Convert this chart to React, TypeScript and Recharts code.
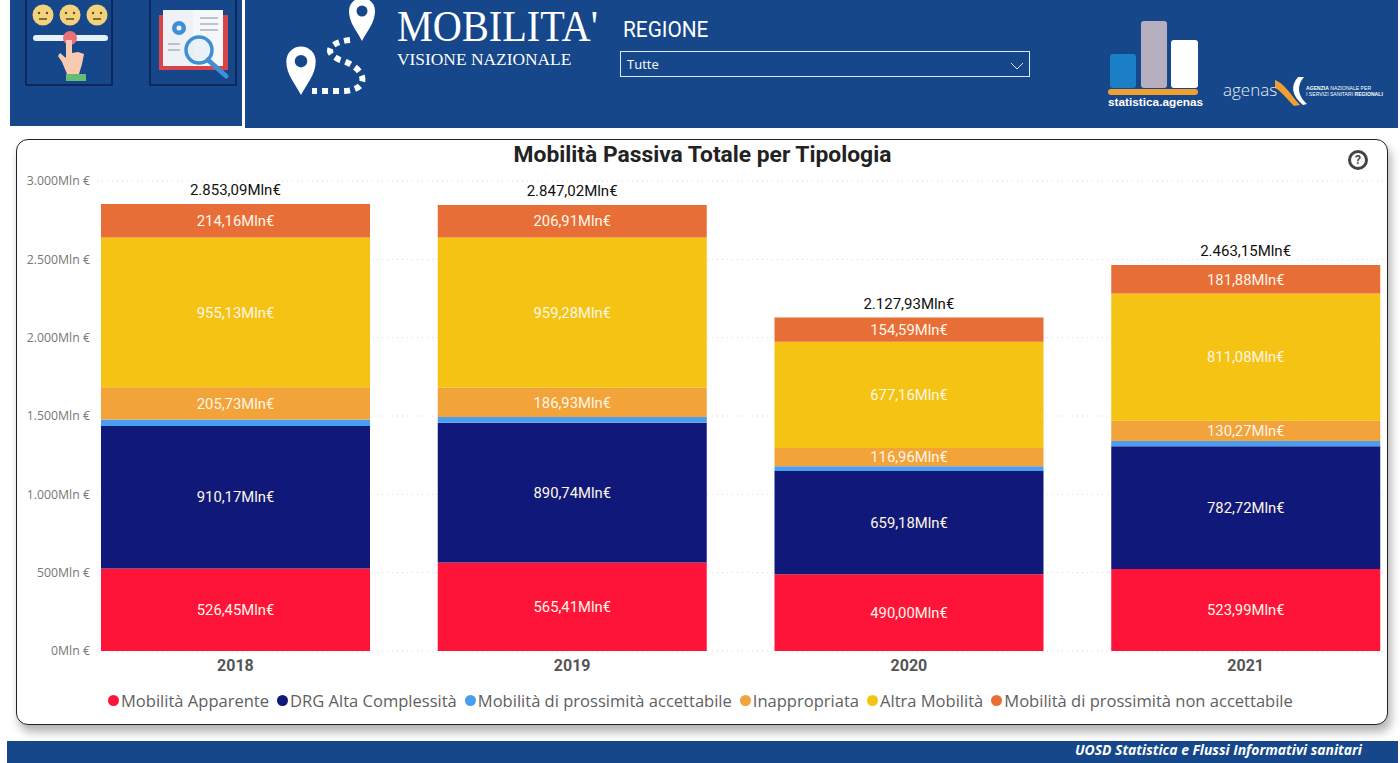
import React from "react";
import {
  Bar,
  CartesianGrid,
  ComposedChart,
  LabelList,
  Legend,
  Line,
  XAxis,
  YAxis,
} from "recharts";

const years = ["2018", "2019", "2020", "2021"];
const apparente = [526.45, 565.41, 490.0, 523.99];
const altaComplessita = [910.17, 890.74, 659.18, 782.72];
const prossimitaAccettabile = [41.45, 37.75, 30.04, 33.21];
const inappropriata = [205.73, 186.93, 116.96, 130.27];
const altraMobilita = [955.13, 959.28, 677.16, 811.08];
const prossimitaNonAccettabile = [214.16, 206.91, 154.59, 181.88];
const totals = [2853.09, 2847.02, 2127.93, 2463.15];
const yTicks = [0, 500, 1000, 1500, 2000, 2500, 3000];

const data = years.map((year, i) => ({
  year,
  apparente: apparente[i],
  altaComplessita: altaComplessita[i],
  prossimitaAccettabile: prossimitaAccettabile[i],
  inappropriata: inappropriata[i],
  altraMobilita: altraMobilita[i],
  prossimitaNonAccettabile: prossimitaNonAccettabile[i],
  total: totals[i],
}));

const series = [
  { key: "apparente", name: "Mobilità Apparente", color: "#FF1439", label: true },
  { key: "altaComplessita", name: "DRG Alta Complessità", color: "#10197A", label: true },
  { key: "prossimitaAccettabile", name: "Mobilità di prossimità accettabile", color: "#4A9EF0", label: false },
  { key: "inappropriata", name: "Inappropriata", color: "#F2A33A", label: true },
  { key: "altraMobilita", name: "Altra Mobilità", color: "#F5C313", label: true },
  { key: "prossimitaNonAccettabile", name: "Mobilità di prossimità non accettabile", color: "#E86E38", label: true },
];

const NAVY = "#15478A";
const LABEL_FONT = "Roboto, sans-serif";

const fmtLabel = (v: number) =>
  v.toLocaleString("it-IT", { minimumFractionDigits: 2, maximumFractionDigits: 2 }) + "Mln€";
const fmtTick = (v: number) => v.toLocaleString("it-IT") + "Mln €";

function ChartLegend() {
  return (
    <div
      style={{
        display: "flex",
        alignItems: "center",
        fontFamily: "'Open Sans', sans-serif",
        fontSize: 16.55,
        color: "#5f5f5f",
        whiteSpace: "nowrap",
      }}
    >
      {series.map((s) => (
        <span key={s.key} style={{ display: "flex", alignItems: "center", marginRight: 8 }}>
          <span
            style={{
              width: 11,
              height: 11,
              borderRadius: "50%",
              background: s.color,
              marginRight: 2,
            }}
          />
          {s.name}
        </span>
      ))}
    </div>
  );
}

function Pin({ x, y, s }: { x: number; y: number; s: number }) {
  return (
    <g transform={`translate(${x} ${y}) scale(${s})`}>
      <path
        d="M0 24 C-5 14 -13 6 -13 -6 A13 13 0 0 1 13 -6 C13 6 5 14 0 24 Z"
        fill="#fff"
      />
      <circle cy={-6} r={5.5} fill={NAVY} />
    </g>
  );
}

function HeaderArt() {
  return (
    <svg width={1400} height={130} style={{ position: "absolute", left: 0, top: 0 }}>
      {/* survey button */}
      <rect x={26} y={-2} width={86} height={87} fill="none" stroke="#0b1f4d" strokeWidth={1.5} />
      {[43, 70, 97].map((cx) => (
        <g key={cx}>
          <circle cx={cx} cy={15} r={10.5} fill="#F3D27A" />
          <circle cx={cx - 4} cy={13} r={1.2} fill="#5a4a2a" />
          <circle cx={cx + 4} cy={13} r={1.2} fill="#5a4a2a" />
          <path d={`M${cx - 4} 19 H${cx + 4}`} stroke="#5a4a2a" strokeWidth={1.5} />
        </g>
      ))}
      <rect x={33} y={35} width={75} height={6} rx={3} fill="#E4F1F7" />
      <circle cx={70} cy={38} r={7} fill="#E8707A" />
      <path
        d="M66 40 H72 V53 L78 52 L84 54 L82 64 L79 74 H67 L62 62 L58 56 L60 53 L66 58 Z"
        fill="#F9C9B0"
      />
      <rect x={66} y={74} width={20} height={7} fill="#66BB77" />
      {/* book button */}
      <rect x={150} y={-2} width={86} height={87} fill="none" stroke="#0b1f4d" strokeWidth={1.5} />
      <rect x={159} y={15} width={69} height={55} fill="#D9444A" />
      <rect x={163} y={10} width={30} height={56} fill="#EEF1F5" />
      <rect x={193} y={10} width={30} height={56} fill="#F6F7F9" />
      <path d="M200 18 H218 M200 24 H218 M200 30 H218 M168 44 H180 M168 50 H180" stroke="#B9C3CC" strokeWidth={2} />
      <circle cx={179} cy={28} r={7} fill="#3F8FD6" />
      <circle cx={179} cy={28} r={2.5} fill="#EEF1F5" />
      <circle cx={199} cy={50} r={13} fill="#DDEEF8" fillOpacity={0.5} stroke="#3F8FD6" strokeWidth={3.5} />
      <path d="M208 60 L226 76" stroke="#3F8FD6" strokeWidth={5} strokeLinecap="round" />
      {/* route icon */}
      <Pin x={362} y={17} s={1} />
      <Pin x={301} y={68} s={1.13} />
      <path
        d="M350 40 C330 42 322 52 340 60 C368 68 372 92 340 91 L312 91"
        fill="none"
        stroke="#fff"
        strokeWidth={6}
        strokeDasharray="6 5"
      />
      {/* statistica.agenas logo */}
      <rect x={1110} y={54} width={26} height={34} rx={3} fill="#1A7FC4" />
      <rect x={1141} y={21} width={26} height={67} rx={3} fill="#B5AFC0" />
      <rect x={1171} y={40} width={27} height={48} rx={3} fill="#fff" />
      <rect x={1108} y={89} width={90} height={6} rx={3} fill="#F0A030" />
      <path d="M1275 80 C1285 84 1290 94 1300 105 L1294 106 C1286 98 1280 90 1275 88 Z" fill="#F0A030" />
      <path d="M1304 77 C1296 86 1298 96 1307 104 L1303 105 C1292 96 1290 86 1298 77 Z" fill="#fff" />
    </svg>
  );
}

export default function App() {
  return (
    <div
      style={{
        position: "fixed",
        left: 0,
        top: 0,
        width: 1400,
        height: 763,
        background: "#fff",
        overflow: "hidden",
      }}
    >
      {/* header bands */}
      <div style={{ position: "absolute", left: 10, top: 0, width: 232, height: 126, background: NAVY }} />
      <div style={{ position: "absolute", left: 245, top: 0, width: 1153, height: 128, background: NAVY }} />
      <HeaderArt />
      <div style={{ position: "absolute", left: 397, top: 1, color: "#fff", fontFamily: "'Liberation Serif', serif", fontSize: 43.5, lineHeight: "50px", whiteSpace: "nowrap", transform: "scaleX(0.926)", transformOrigin: "left" }}>
        MOBILITA'
      </div>
      <div style={{ position: "absolute", left: 397, top: 48, color: "#fff", fontFamily: "'Liberation Serif', serif", fontSize: 17.4, lineHeight: "22px", whiteSpace: "nowrap" }}>
        VISIONE NAZIONALE
      </div>
      <div style={{ position: "absolute", left: 623, top: 16, color: "#fff", fontFamily: LABEL_FONT, fontSize: 22, lineHeight: "28px", transform: "scaleX(0.945)", transformOrigin: "left" }}>
        REGIONE
      </div>
      <div style={{ position: "absolute", left: 620, top: 51, width: 408, height: 24, border: "1px solid #dce8f5", color: "#fff", fontFamily: "'Open Sans', sans-serif", fontSize: 13, lineHeight: "25px", textIndent: 6 }}>
        Tutte
        <svg width={14} height={8} style={{ position: "absolute", right: 5, top: 10 }}>
          <path d="M1 1 L7 7 L13 1" fill="none" stroke="#dce8f5" />
        </svg>
      </div>
      <div style={{ position: "absolute", left: 1108, top: 95, color: "#fff", fontFamily: "'Liberation Sans', sans-serif", fontWeight: 700, fontSize: 11.8, lineHeight: "15px", whiteSpace: "nowrap" }}>
        statistica.agenas
      </div>
      <div style={{ position: "absolute", left: 1223, top: 78, color: "#E6EEF7", fontFamily: "'Open Sans', sans-serif", fontWeight: 300, fontSize: 17, lineHeight: "24px" }}>
        agenas
      </div>
      <div style={{ position: "absolute", left: 1306, top: 85, color: "#fff", fontFamily: "'Liberation Sans', sans-serif", fontSize: 5.1, lineHeight: "6px", whiteSpace: "nowrap" }}>
        <b>AGENZIA</b> NAZIONALE PER
        <br />I SERVIZI SANITARI <b>REGIONALI</b>
      </div>

      {/* card */}
      <div
        style={{
          position: "absolute",
          left: 16,
          top: 139,
          width: 1370,
          height: 584,
          border: "1.5px solid #222",
          borderRadius: 12,
          background: "#fff",
          boxShadow: "3px 7px 10px rgba(0,0,0,0.3)",
        }}
      />
      <div style={{ position: "absolute", left: 0, width: 1405, top: 140, textAlign: "center", color: "#222", fontFamily: LABEL_FONT, fontWeight: 700, fontSize: 22.8, lineHeight: "30px" }}>
        Mobilità Passiva Totale per Tipologia
      </div>
      <div style={{ position: "absolute", left: 1348, top: 150, width: 14, height: 14, border: "3px solid #444", borderRadius: "50%", color: "#444", fontFamily: LABEL_FONT, fontWeight: 700, fontSize: 12, lineHeight: "14px", textAlign: "center" }}>
        ?
      </div>

      <div style={{ position: "absolute", left: 0, top: 0 }}>
        <ComposedChart
          width={1400}
          height={763}
          data={data}
          margin={{ top: 181, right: 15, bottom: 59, left: 17 }}
          barCategoryGap={34}
        >
          <CartesianGrid vertical={false} stroke="#d9d9d9" strokeDasharray="1 4" />
          <XAxis
            dataKey="year"
            axisLine={false}
            tickLine={false}
            padding={{ left: -30, right: -29 }}
            height={30}
            tickMargin={3}
            tick={{ fill: "#555", fontFamily: LABEL_FONT, fontWeight: 700, fontSize: 16 }}
          />
          <YAxis
            width={80}
            domain={[0, 3000]}
            ticks={yTicks}
            axisLine={false}
            tickLine={false}
            tickMargin={1}
            tickFormatter={fmtTick}
            tick={{ fill: "#777", fontFamily: "'Open Sans', sans-serif", fontSize: 12.3 }}
          />
          <Legend
            content={<ChartLegend />}
            wrapperStyle={{ position: "absolute", left: 108, top: 689, width: "auto" }}
          />
          {series.map((s) => (
            <Bar
              key={s.key}
              dataKey={s.key}
              name={s.name}
              stackId="total"
              fill={s.color}
              isAnimationActive={false}
            >
              {s.label && (
                <LabelList
                  dataKey={s.key}
                  position="center"
                  formatter={fmtLabel}
                  fill="#FFF6E6"
                  fontFamily={LABEL_FONT}
                  fontSize={14.8}
                />
              )}
            </Bar>
          ))}
          <Line
            dataKey="total"
            stroke="none"
            dot={false}
            legendType="none"
            isAnimationActive={false}
          >
            <LabelList
              dataKey="total"
              position="top"
              offset={9}
              formatter={fmtLabel}
              fill="#111"
              fontFamily={LABEL_FONT}
              fontSize={15}
            />
          </Line>
        </ComposedChart>
      </div>

      {/* footer */}
      <div style={{ position: "absolute", left: 7, top: 741, width: 1391, height: 22, background: NAVY }} />
      <div style={{ position: "absolute", right: 38, top: 741, color: "#fff", fontFamily: "'Open Sans', sans-serif", fontWeight: 700, fontStyle: "italic", fontSize: 13.9, lineHeight: "18px" }}>
        UOSD Statistica e Flussi Informativi sanitari
      </div>
    </div>
  );
}
